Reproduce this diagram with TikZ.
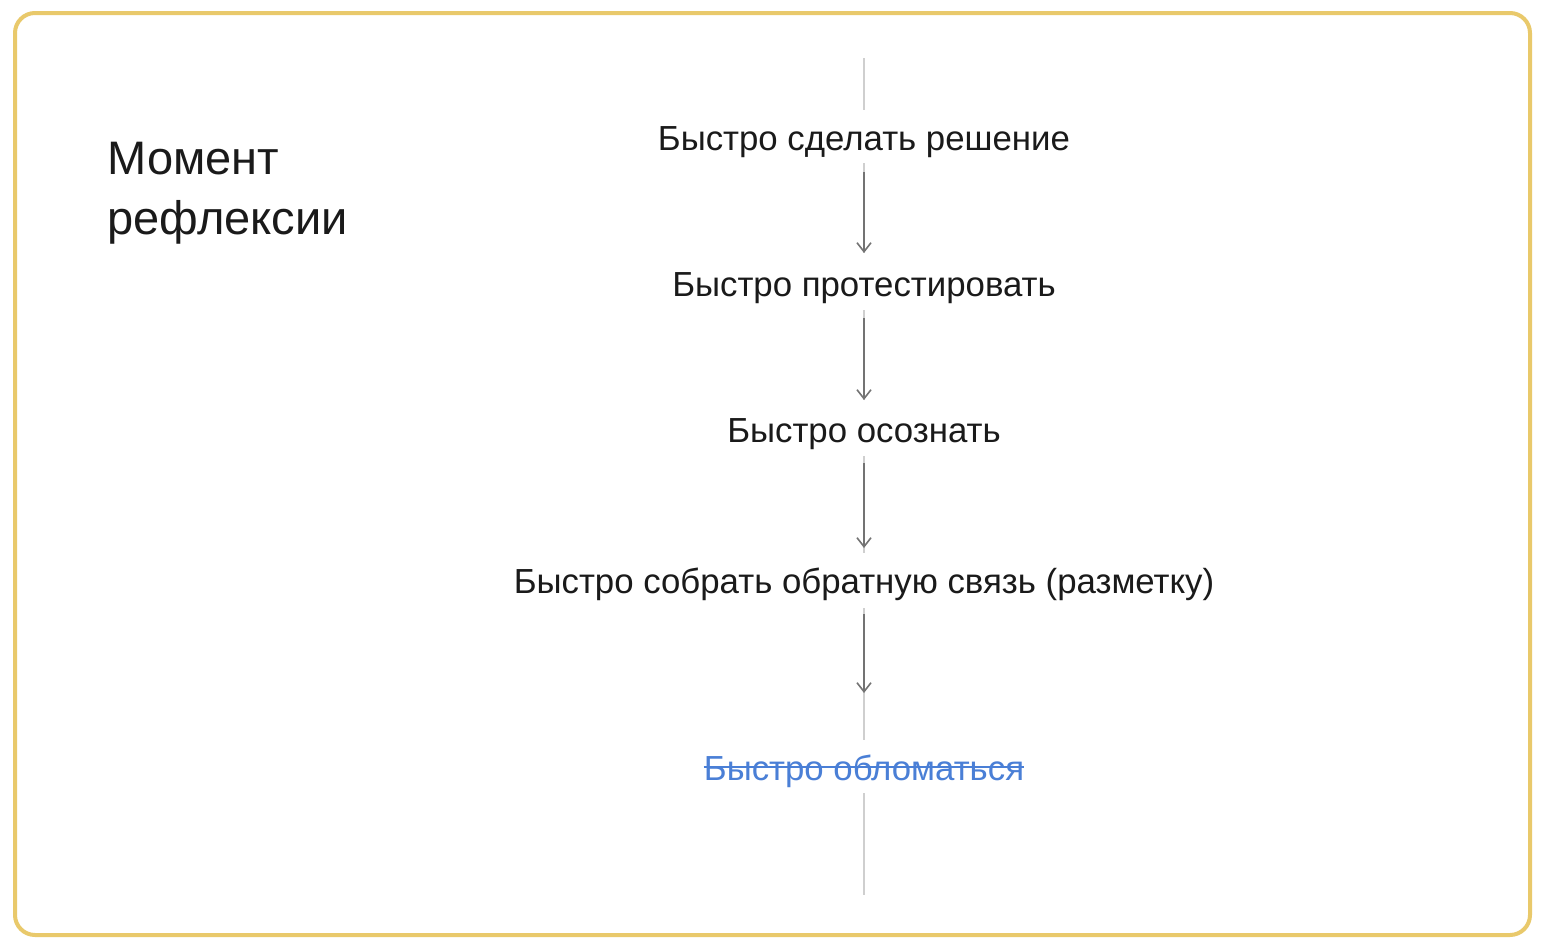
\documentclass[tikz,border=0pt]{standalone}
\usepackage{fontspec}
\setmainfont{Liberation Sans}
\usetikzlibrary{arrows.meta}
\definecolor{frameyellow}{HTML}{E9C96B}
\definecolor{txt}{HTML}{1A1A1A}
\definecolor{blueish}{HTML}{4A7FD6}
\definecolor{darkline}{HTML}{737373}
\definecolor{lightline}{HTML}{CFCFCF}
\tikzset{
  item/.style={anchor=base, inner sep=0pt, text=txt, font=\fontsize{17.4pt}{20pt}\selectfont},
  struck/.style={anchor=base, inner sep=0pt, text=blueish, font=\fontsize{17.4pt}{20pt}\selectfont},
  heading/.style={anchor=base west, inner sep=0pt, text=txt, align=left, font=\fontsize{23.5pt}{30pt}\selectfont},
  faint/.style={draw=lightline, line width=1pt},
  flow/.style={draw=darkline, line width=1pt, -{Straight Barb[length=4.5pt,width=7pt,line width=0.8pt]}},
}
\begin{document}
\begin{tikzpicture}[x=0.5pt,y=-0.5pt]
\useasboundingbox (0,0) rectangle (1560,948);
\fill[white] (0,0) rectangle (1560,948);
\draw[frameyellow, line width=2pt, rounded corners=10pt] (15,13) rectangle (1530,935);

\node[heading] (head) at (107,234) {Момент\\рефлексии};

\node[item] (t1) at (864,150) {Быстро сделать решение};
\node[item] (t2) at (864,296) {Быстро протестировать};
\node[item] (t3) at (864,442) {Быстро осознать};
\node[item] (t4) at (864,593) {Быстро собрать обратную связь (разметку)};
\node[struck] (t5) at (864,780) {Быстро обломаться};
\draw[blueish, line width=1.2pt] (t5.west |- 0,767) -- (t5.east |- 0,767);

\coordinate (top) at (864,58);
\coordinate (topend) at (864,110);
\coordinate (bot) at (864,793);
\coordinate (botend) at (864,895);
\coordinate (a1s) at (864,163);
\coordinate (a1d) at (864,172);
\coordinate (a1e) at (864,253);
\coordinate (a2s) at (864,310);
\coordinate (a2d) at (864,318);
\coordinate (a2e) at (864,400);
\coordinate (a3s) at (864,456);
\coordinate (a3d) at (864,463);
\coordinate (a3e) at (864,548);
\coordinate (a3f) at (864,553);
\coordinate (a4s) at (864,608);
\coordinate (a4d) at (864,614);
\coordinate (a4e) at (864,693);
\coordinate (a4f) at (864,740);

\draw[faint] (top) -- (topend);
\draw[faint] (bot) -- (botend);
\draw[faint] (a1s) -- (a1e);
\draw[faint] (a2s) -- (a2e);
\draw[faint] (a3s) -- (a3f);
\draw[faint] (a4s) -- (a4f);
\draw[flow] (a1d) -- (a1e);
\draw[flow] (a2d) -- (a2e);
\draw[flow] (a3d) -- (a3e);
\draw[flow] (a4d) -- (a4e);
\end{tikzpicture}
\end{document}
